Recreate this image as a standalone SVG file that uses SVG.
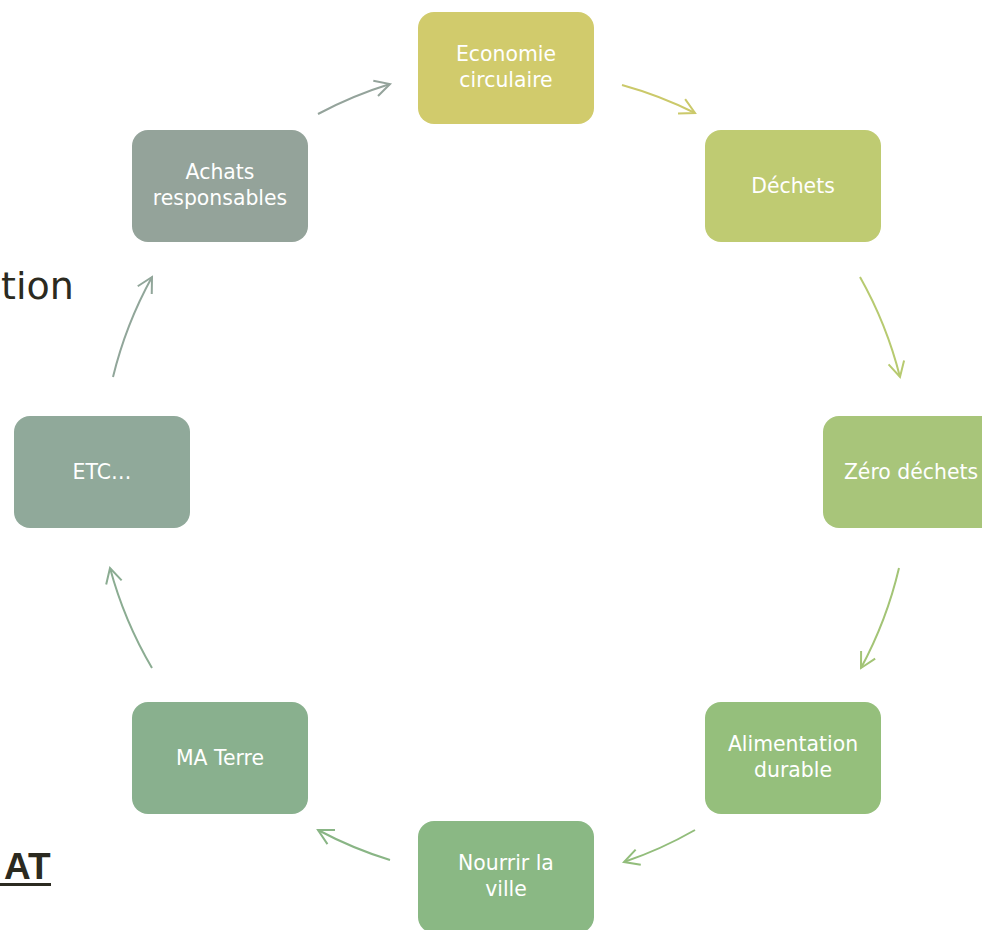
<svg xmlns="http://www.w3.org/2000/svg" width="982" height="930" viewBox="0 0 982 930">
<style>
.n text{font-family:"DejaVu Sans","Liberation Sans",sans-serif;font-size:20.4px;fill:#ffffff;text-anchor:middle}
.c path{fill:none;stroke-width:2}
.bg{font-family:"DejaVu Sans","Liberation Sans",sans-serif;fill:#2b2a20}
.bgb{font-family:"Liberation Sans","DejaVu Sans",sans-serif;fill:#2b2a20;font-weight:bold}
</style>
<defs>
<marker id="m1" markerUnits="userSpaceOnUse" markerWidth="30" markerHeight="30" refX="0" refY="0" viewBox="-20 -15 30 30" orient="auto" overflow="visible"><path d="M-15,-8 L0,0 L-15,8" fill="none" stroke="#cbc96a" stroke-width="2"/></marker>
<marker id="m2" markerUnits="userSpaceOnUse" markerWidth="30" markerHeight="30" refX="0" refY="0" viewBox="-20 -15 30 30" orient="auto" overflow="visible"><path d="M-15,-8 L0,0 L-15,8" fill="none" stroke="#b7ca70" stroke-width="2"/></marker>
<marker id="m3" markerUnits="userSpaceOnUse" markerWidth="30" markerHeight="30" refX="0" refY="0" viewBox="-20 -15 30 30" orient="auto" overflow="visible"><path d="M-15,-8 L0,0 L-15,8" fill="none" stroke="#a3c476" stroke-width="2"/></marker>
<marker id="m4" markerUnits="userSpaceOnUse" markerWidth="30" markerHeight="30" refX="0" refY="0" viewBox="-20 -15 30 30" orient="auto" overflow="visible"><path d="M-15,-8 L0,0 L-15,8" fill="none" stroke="#92bd7b" stroke-width="2"/></marker>
<marker id="m5" markerUnits="userSpaceOnUse" markerWidth="30" markerHeight="30" refX="0" refY="0" viewBox="-20 -15 30 30" orient="auto" overflow="visible"><path d="M-15,-8 L0,0 L-15,8" fill="none" stroke="#89b585" stroke-width="2"/></marker>
<marker id="m6" markerUnits="userSpaceOnUse" markerWidth="30" markerHeight="30" refX="0" refY="0" viewBox="-20 -15 30 30" orient="auto" overflow="visible"><path d="M-15,-8 L0,0 L-15,8" fill="none" stroke="#8bac92" stroke-width="2"/></marker>
<marker id="m7" markerUnits="userSpaceOnUse" markerWidth="30" markerHeight="30" refX="0" refY="0" viewBox="-20 -15 30 30" orient="auto" overflow="visible"><path d="M-15,-8 L0,0 L-15,8" fill="none" stroke="#91a69a" stroke-width="2"/></marker>
<marker id="m8" markerUnits="userSpaceOnUse" markerWidth="30" markerHeight="30" refX="0" refY="0" viewBox="-20 -15 30 30" orient="auto" overflow="visible"><path d="M-15,-8 L0,0 L-15,8" fill="none" stroke="#94a39b" stroke-width="2"/></marker>
</defs>
<rect width="982" height="930" fill="#ffffff"/>
<text class="bg" x="1" y="299" font-size="38">tion</text>
<g>
<text class="bgb" x="4" y="879" font-size="37">AT</text>
<rect x="0" y="883" width="51" height="3" fill="#2b2a20"/>
</g>
<g class="c" id="connectors">
<path d="M622,85 A405,405 0 0 1 695,113" stroke="#cbc96a" marker-end="url(#m1)"/>
<path d="M860,277 A405,405 0 0 1 900,377" stroke="#b7ca70" marker-end="url(#m2)"/>
<path d="M899,568 A405,405 0 0 1 861,668" stroke="#a3c476" marker-end="url(#m3)"/>
<path d="M695,830 A405,405 0 0 1 624,862" stroke="#92bd7b" marker-end="url(#m4)"/>
<path d="M390,860 A405,405 0 0 1 318,830" stroke="#89b585" marker-end="url(#m5)"/>
<path d="M152,668 A405,405 0 0 1 110,568" stroke="#8bac92" marker-end="url(#m6)"/>
<path d="M113,377 A405,405 0 0 1 152,277" stroke="#91a69a" marker-end="url(#m7)"/>
<path d="M318,114 A405,405 0 0 1 390,84" stroke="#94a39b" marker-end="url(#m8)"/>
</g>
<g class="n" id="economie"><rect x="418" y="12" width="176" height="112" rx="16" fill="#d1cb6c"/><text x="506" y="61">Economie</text><text x="506" y="87">circulaire</text></g>
<g class="n" id="dechets"><rect x="705" y="130" width="176" height="112" rx="16" fill="#bfcb72"/><text x="793" y="193">Déchets</text></g>
<g class="n" id="zero"><rect x="823" y="416" width="176" height="112" rx="16" fill="#a8c57a"/><text x="911" y="479">Zéro déchets</text></g>
<g class="n" id="alimentation"><rect x="705" y="702" width="176" height="112" rx="16" fill="#95bf7c"/><text x="793" y="751">Alimentation</text><text x="793" y="777">durable</text></g>
<g class="n" id="nourrir"><rect x="418" y="821" width="176" height="112" rx="16" fill="#8ab884"/><text x="506" y="870">Nourrir la</text><text x="506" y="896">ville</text></g>
<g class="n" id="materre"><rect x="132" y="702" width="176" height="112" rx="16" fill="#89b08e"/><text x="220" y="765">MA Terre</text></g>
<g class="n" id="etc"><rect x="14" y="416" width="176" height="112" rx="16" fill="#90a99a"/><text x="102" y="479">ETC…</text></g>
<g class="n" id="achats"><rect x="132" y="130" width="176" height="112" rx="16" fill="#94a39a"/><text x="220" y="179">Achats</text><text x="220" y="205">responsables</text></g>
</svg>
